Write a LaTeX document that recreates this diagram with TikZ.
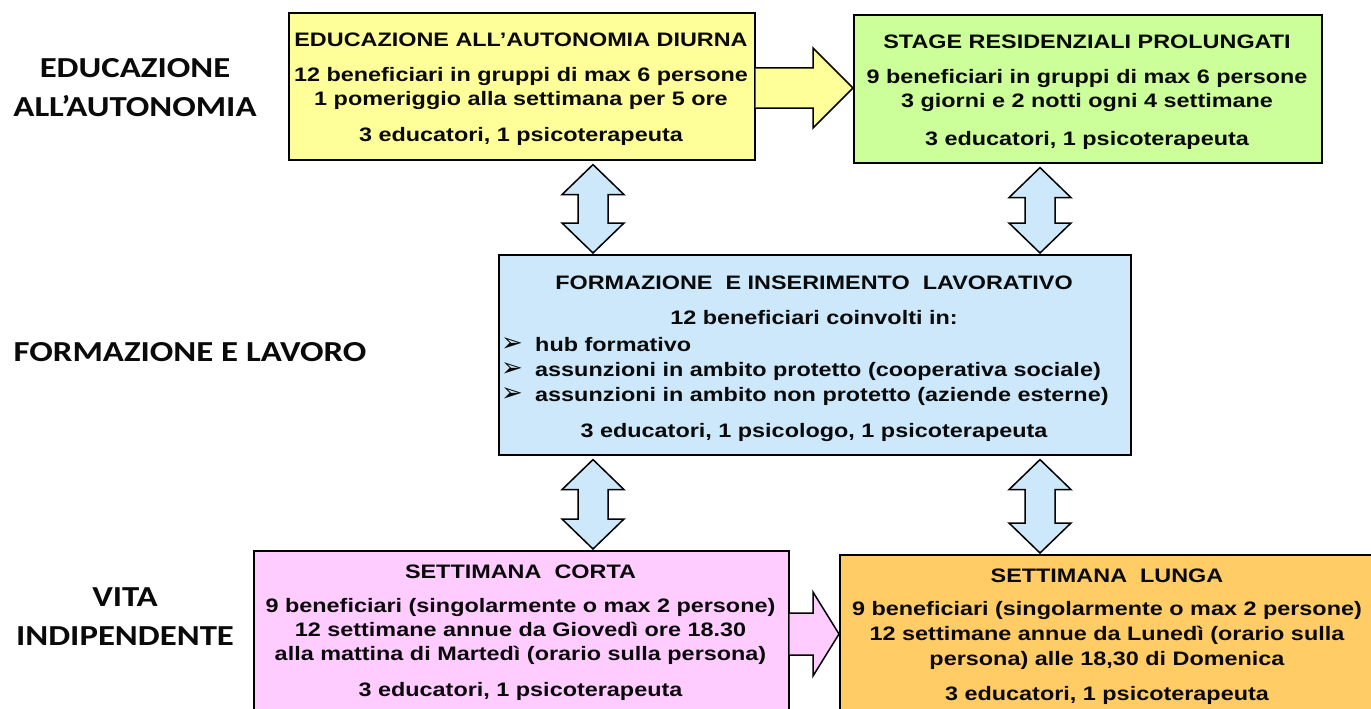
\documentclass[tikz,border=0pt]{standalone}
\usepackage{fontspec}
\setmainfont[FakeStretch=1.2]{Liberation Sans}
\newfontfamily\carl[FakeStretch=1.2]{Carlito}
\newfontfamily\dv{DejaVu Sans}
\usetikzlibrary{calc}
\definecolor{yelc}{HTML}{FFFF99}
\definecolor{grnc}{HTML}{CCFF99}
\definecolor{bluc}{HTML}{CCE8FA}
\definecolor{pnkc}{HTML}{FFCCFF}
\definecolor{orgc}{HTML}{FFCC66}
\definecolor{txtc}{HTML}{0A0A0A}
\tikzset{
  box/.style={draw=black, line width=1.6pt, rectangle, inner sep=0pt, anchor=north west},
  txt/.style={inner sep=0pt, align=center, text=txtc, font=\bfseries\fontsize{19.5}{24}\selectfont},
  bl/.style={inner sep=0pt, anchor=base west, text=txtc, font=\bfseries\fontsize{19.5}{24}\selectfont},
  bsym/.style={inner sep=0pt, anchor=base west, text=txtc, font=\dv\fontsize{26}{26}\selectfont},
  lab/.style={inner sep=0pt, align=center, text=txtc, font=\carl\bfseries\fontsize{29}{39}\selectfont},
  arr/.style={draw=black, line width=1.5pt, line join=miter},
}
% vertical double arrow: #1 x-coordinate name, #2 upper node, #3 lower node
\newcommand\vdarr[3]{%
  \draw[arr, fill=bluc] let \p1=($(#1 |- #2.south)+(0,-4pt)$), \p2=($(#1 |- #3.north)+(0,1pt)$) in
    (\x1,\y1) -- (\x1+31pt,\y1-30pt) -- (\x1+15pt,\y1-30pt) -- (\x1+15pt,\y2+30pt)
    -- (\x1+31pt,\y2+30pt) -- (\x1,\y2) -- (\x1-31pt,\y2+30pt) -- (\x1-15pt,\y2+30pt)
    -- (\x1-15pt,\y1-30pt) -- (\x1-31pt,\y1-30pt) -- cycle;}
% horizontal arrow: #1 from node, #2 to node, #3 fill, #4 y-coordinate name, #5 shaft half, #6 head half, #7 head length
\newcommand\hsarr[7]{%
  \draw[arr, fill=#3] let \p1=(#1.east |- #4), \p2=(#2.west |- #4) in
    (\x1,\y1+#5) -- (\x2-#7,\y1+#5) -- (\x2-#7,\y1+#6) -- (\x2,\y1) -- (\x2-#7,\y1-#6)
    -- (\x2-#7,\y1-#5) -- (\x1,\y1-#5);}
\begin{document}
\begin{tikzpicture}[x=1pt,y=-1pt]
\useasboundingbox (0,0) rectangle (1371,709);
\clip (0,0) rectangle (1371,709);
\fill[white] (0,0) rectangle (1371,709);

% left labels
\node[lab] (l1) at (135,87.5) {EDUCAZIONE\\ALL’AUTONOMIA};
\node[lab] (l2) at (190,352) {FORMAZIONE E LAVORO};
\node[lab] (l3) at (125,617) {VITA\\INDIPENDENTE};

% boxes
\node[box, fill=yelc, minimum width=466pt, minimum height=147pt] (edu) at (288,12) {};
\node[box, fill=grnc, minimum width=468pt, minimum height=148pt] (stage) at (853,14) {};
\node[box, fill=bluc, minimum width=632pt, minimum height=200pt] (form) at (498,254) {};
\node[box, fill=pnkc, minimum width=535pt, minimum height=168pt] (corta) at (253,550) {};
\node[box, fill=orgc, minimum width=546pt, minimum height=168pt] (lunga) at (839,554) {};

% texts
\node[txt, anchor=north] (eduT) at (521,33) {EDUCAZIONE ALL’AUTONOMIA DIURNA\\[11pt]12 beneficiari in gruppi di max 6 persone\\1 pomeriggio alla settimana per 5 ore\\[12pt]3 educatori, 1 psicoterapeuta};
\node[txt, anchor=north] (stageT) at (1087,35) {STAGE RESIDENZIALI PROLUNGATI\\[11pt]9 beneficiari in gruppi di max 6 persone\\3 giorni e 2 notti ogni 4 settimane\\[14pt]3 educatori, 1 psicoterapeuta};
\node[txt, anchor=north] (formT) at (814,276) {FORMAZIONE~ E INSERIMENTO~ LAVORATIVO\\[11pt]12 beneficiari coinvolti in:};
\node[bl] (b1) at (535,351) {hub formativo};
\node[bl] (b2) at (535,376) {assunzioni in ambito protetto (cooperativa sociale)};
\node[bl] (b3) at (535,401) {assunzioni in ambito non protetto (aziende esterne)};
\node[bsym] (s1) at ($(b1.base west)+(-34pt,0pt)$) {➢};
\node[bsym] (s2) at ($(b2.base west)+(-34pt,0pt)$) {➢};
\node[bsym] (s3) at ($(b3.base west)+(-34pt,0pt)$) {➢};
\node[txt, anchor=base] (formS) at (814,437) {3 educatori, 1 psicologo, 1 psicoterapeuta};
\node[txt, anchor=north] (cortaT) at (520.5,565) {SETTIMANA~ CORTA\\[10pt]9 beneficiari (singolarmente o max 2 persone)\\12 settimane annue da Giovedì ore 18.30\\alla mattina di Martedì (orario sulla persona)\\[12pt]3 educatori, 1 psicoterapeuta};
\node[txt, anchor=north] (lungaT) at (1107,569) {SETTIMANA~ LUNGA\\[9pt]9 beneficiari (singolarmente o max 2 persone)\\[1pt]12 settimane annue da Lunedì (orario sulla\\[1pt]persona) alle 18,30 di Domenica\\[11pt]3 educatori, 1 psicoterapeuta};

% connectors
\coordinate (xl) at (593,0);
\coordinate (xr) at (1040,0);
\vdarr{xl}{edu}{form}
\vdarr{xr}{stage}{form}
\vdarr{xl}{form}{corta}
\vdarr{xr}{form}{lunga}
\coordinate (ya) at (0,88);
\coordinate (yb) at (0,634);
\hsarr{edu}{stage}{yelc}{ya}{20pt}{40pt}{40pt}
\hsarr{corta}{lunga}{pnkc}{yb}{21pt}{42pt}{26pt}
\end{tikzpicture}
\end{document}
